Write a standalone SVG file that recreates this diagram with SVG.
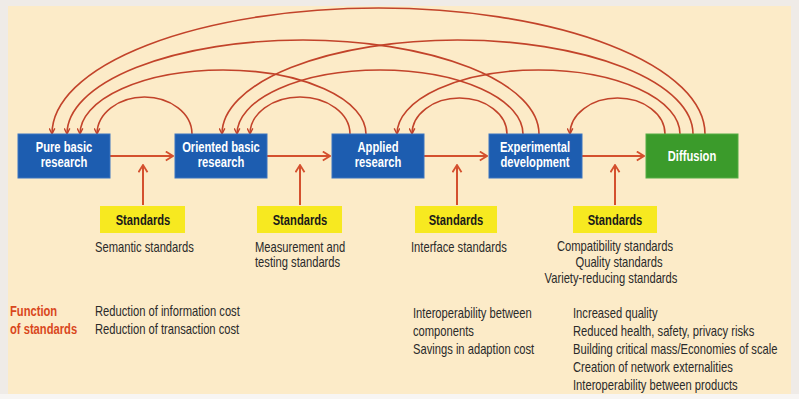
<svg xmlns="http://www.w3.org/2000/svg" width="799" height="399" viewBox="0 0 799 399">
<style>
.box{fill:#1d5db0;stroke:#3a74c0;stroke-width:1}
.green{fill:#3b9b2b;stroke:#55ad45;stroke-width:1}
text{font-family:"Liberation Sans",Arial,sans-serif;font-size:14px}
.lbl{font-weight:bold;fill:#ffffff;text-anchor:middle}
.std{fill:#f7e920}
.stdt{font-weight:bold;fill:#1a1a1a;text-anchor:middle}
.t{fill:#2a2a2a}
.tm{text-anchor:middle}
.fn{font-weight:bold;fill:#d9471c}
.arc{fill:none;stroke:#c2432a;stroke-width:1.6;marker-end:url(#ah)}
.flow{fill:none;stroke:#d4502e;stroke-width:2;marker-end:url(#big)}
</style>
<defs>
<marker id="ah" viewBox="0 0 10 10" refX="9" refY="5" markerWidth="7" markerHeight="7" markerUnits="userSpaceOnUse" orient="auto">
<path d="M1,1 L9,5 L1,9" fill="none" stroke="#c2432a" stroke-width="2"/>
</marker>
<marker id="big" viewBox="0 0 10 12" refX="9" refY="6" markerWidth="9" markerHeight="11" markerUnits="userSpaceOnUse" orient="auto">
<path d="M1,1 L9,6 L1,11" fill="none" stroke="#d4502e" stroke-width="2"/>
</marker>
</defs>
<rect x="0" y="0" width="799" height="399" fill="#efebe7"/>
<rect x="8" y="6" width="783" height="388" fill="#fcebc8"/>
<rect x="0" y="394" width="799" height="5" fill="#f7f5f3"/>

<g id="connectors">
<path class="arc" d="M192,134 A47.5,37 0 0 0 97,134"/>
<path class="arc" d="M350,134 A50,37 0 0 0 250,134"/>
<path class="arc" d="M507,134 A47.5,36 0 0 0 412,134"/>
<path class="arc" d="M665,134 A47.5,36 0 0 0 570,134"/>
<path class="arc" d="M366,134 A143,64 0 0 0 80,134"/>
<path class="arc" d="M523,134 A143,64 0 0 0 237,134"/>
<path class="arc" d="M680,134 A141.5,64 0 0 0 397,134"/>
<path class="arc" d="M539,134 A236,94 0 0 0 67,134"/>
<path class="arc" d="M693,134 A235.5,94 0 0 0 222,134"/>
<path class="arc" d="M705,134 A326.5,126 0 0 0 52,134"/>
<path class="flow" d="M110,156 L173,156"/>
<path class="flow" d="M267,156 L330,156"/>
<path class="flow" d="M424,156 L487,156"/>
<path class="flow" d="M582,156 L644,156"/>
<path class="flow" d="M143,205 L143,165"/>
<path class="flow" d="M300,205 L300,165"/>
<path class="flow" d="M457,205 L457,165"/>
<path class="flow" d="M615,205 L615,165"/>
</g>

<g id="pure-basic-research">
<rect class="box" x="18" y="134" width="92" height="44"/>
<text class="lbl" transform="translate(64,152) scale(0.8,1)">Pure basic</text>
<text class="lbl" transform="translate(64,167) scale(0.8,1)">research</text>
</g>
<g id="oriented-basic-research">
<rect class="box" x="175" y="134" width="92" height="44"/>
<text class="lbl" transform="translate(221,152) scale(0.8,1)">Oriented basic</text>
<text class="lbl" transform="translate(221,167) scale(0.8,1)">research</text>
</g>
<g id="applied-research">
<rect class="box" x="332" y="134" width="92" height="44"/>
<text class="lbl" transform="translate(378,152) scale(0.8,1)">Applied</text>
<text class="lbl" transform="translate(378,167) scale(0.8,1)">research</text>
</g>
<g id="experimental-development">
<rect class="box" x="489" y="134" width="93" height="44"/>
<text class="lbl" transform="translate(535,152) scale(0.8,1)">Experimental</text>
<text class="lbl" transform="translate(535,167) scale(0.8,1)">development</text>
</g>
<g id="diffusion">
<rect class="green" x="646" y="134" width="92" height="44"/>
<text class="lbl" transform="translate(692,161) scale(0.8,1)">Diffusion</text>
</g>

<g id="standards-1">
<rect class="std" x="100" y="206" width="85" height="27"/>
<text class="stdt" transform="translate(143,225) scale(0.8,1)">Standards</text>
</g>
<g id="standards-2">
<rect class="std" x="257" y="206" width="85" height="27"/>
<text class="stdt" transform="translate(300,225) scale(0.8,1)">Standards</text>
</g>
<g id="standards-3">
<rect class="std" x="415" y="206" width="82" height="27"/>
<text class="stdt" transform="translate(456,225) scale(0.8,1)">Standards</text>
</g>
<g id="standards-4">
<rect class="std" x="573" y="206" width="84" height="27"/>
<text class="stdt" transform="translate(615,225) scale(0.8,1)">Standards</text>
</g>

<g id="standard-types">
<text class="t" transform="translate(95,252) scale(0.8,1)">Semantic standards</text>
<text class="t" transform="translate(255,252) scale(0.8,1)">Measurement and</text>
<text class="t" transform="translate(255,267) scale(0.8,1)">testing standards</text>
<text class="t" transform="translate(411,252) scale(0.8,1)">Interface standards</text>
<text class="t tm" transform="translate(615,251) scale(0.8,1)">Compatibility standards</text>
<text class="t tm" transform="translate(619,267) scale(0.8,1)">Quality standards</text>
<text class="t tm" transform="translate(611,283) scale(0.8,1)">Variety-reducing standards</text>
</g>

<g id="functions">
<text class="fn" transform="translate(10,316) scale(0.8,1)">Function</text>
<text class="fn" transform="translate(10,334) scale(0.8,1)">of standards</text>
<text class="t" transform="translate(95,316) scale(0.8,1)">Reduction of information cost</text>
<text class="t" transform="translate(95,334) scale(0.8,1)">Reduction of transaction cost</text>
<text class="t" transform="translate(413,318) scale(0.8,1)">Interoperability between</text>
<text class="t" transform="translate(413,336) scale(0.8,1)">components</text>
<text class="t" transform="translate(413,354) scale(0.8,1)">Savings in adaption cost</text>
<text class="t" transform="translate(573,318) scale(0.8,1)">Increased quality</text>
<text class="t" transform="translate(573,336) scale(0.8,1)">Reduced health, safety, privacy risks</text>
<text class="t" transform="translate(573,354) scale(0.8,1)">Building critical mass/Economies of scale</text>
<text class="t" transform="translate(573,372) scale(0.8,1)">Creation of network externalities</text>
<text class="t" transform="translate(573,390) scale(0.8,1)">Interoperability between products</text>
</g>
</svg>
